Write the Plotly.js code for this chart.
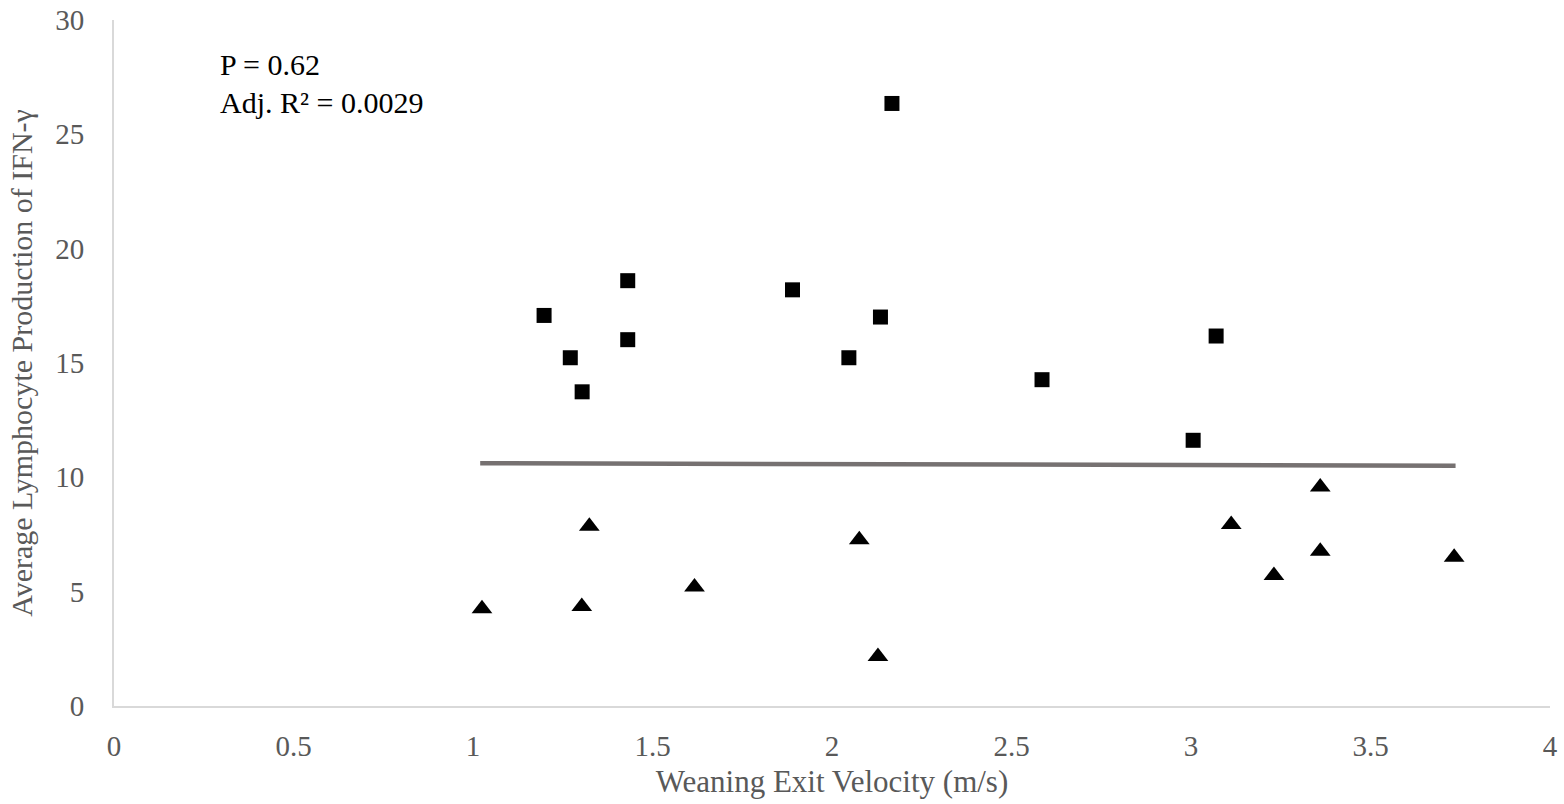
<!DOCTYPE html>
<html>
<head>
<meta charset="utf-8">
<script src="https://cdn.plot.ly/plotly-3.0.1.min.js"></script>
<style>html,body{margin:0;padding:0;background:#fff;}#chart{width:1564px;height:804px;}</style>
</head>
<body>
<div id="chart"></div>
<script>
// Squares series
const squareX = [1.198, 1.271, 1.304, 1.431, 1.431, 1.890, 2.047, 2.135, 2.167, 2.585, 3.006, 3.070];
const squareY = [17.08, 15.23, 13.74, 18.60, 16.02, 18.20, 15.23, 17.01, 26.35, 14.27, 11.62, 16.18];
// Triangles series
const triX = [1.025, 1.303, 1.324, 1.617, 2.076, 2.128, 3.112, 3.231, 3.360, 3.360, 3.733];
const triY = [4.25, 4.35, 7.86, 5.20, 7.27, 2.17, 7.94, 5.71, 9.58, 6.77, 6.51];
// Trend line endpoints
const trendX = [1.02, 3.737];
const trendY = [10.62, 10.51];
const xTicks = [0, 0.5, 1, 1.5, 2, 2.5, 3, 3.5, 4];
const xTickText = ['0', '0.5', '1', '1.5', '2', '2.5', '3', '3.5', '4'];
const yTicks = [0, 5, 10, 15, 20, 25, 30];
const yTickText = ['0', '5', '10', '15', '20', '25', '30'];

const FONT = '"Liberation Serif", "Times New Roman", serif';

const traces = [
  {x: trendX, y: trendY, mode: 'lines', type: 'scatter',
   line: {color: '#767171', width: 4.5}, hoverinfo: 'skip', showlegend: false},
  {x: squareX, y: squareY, mode: 'markers', type: 'scatter',
   marker: {symbol: 'square', size: 15, color: '#000000'}, showlegend: false},
  {x: triX, y: triY, mode: 'markers', type: 'scatter',
   marker: {symbol: 'triangle-up', size: 18, color: '#000000'}, showlegend: false}
];

const layout = {
  width: 1564, height: 804,
  margin: {l: 114, r: 14, t: 20, b: 98},
  paper_bgcolor: '#ffffff', plot_bgcolor: '#ffffff',
  font: {family: FONT, color: '#595959', size: 29},
  xaxis: {
    range: [0, 4], tickvals: xTicks, ticktext: xTickText,
    showgrid: false, zeroline: false,
    showline: true, linecolor: '#d9d9d9', linewidth: 2,
    ticks: 'outside', ticklen: 13, tickcolor: 'rgba(0,0,0,0)',
    tickfont: {family: FONT, size: 29, color: '#595959'},
    title: {text: 'Weaning Exit Velocity (m/s)', font: {family: FONT, size: 31, color: '#595959'}, standoff: 10},
    automargin: false, fixedrange: true
  },
  yaxis: {
    range: [0, 30], tickvals: yTicks, ticktext: yTickText,
    showgrid: false, zeroline: false,
    showline: true, linecolor: '#d9d9d9', linewidth: 2,
    ticks: 'outside', ticklen: 22, tickcolor: 'rgba(0,0,0,0)',
    tickfont: {family: FONT, size: 29, color: '#595959'},
    title: {text: 'Average Lymphocyte Production of IFN-γ', font: {family: FONT, size: 30, color: '#595959'}, standoff: 14},
    automargin: false, fixedrange: true
  },
  annotations: [
    {xref: 'paper', yref: 'paper', x: 0.0725, y: 0.935, xanchor: 'left', yanchor: 'middle',
     text: 'P = 0.62', showarrow: false, align: 'left',
     font: {family: FONT, size: 30, color: '#000000'}},
    {xref: 'paper', yref: 'paper', x: 0.0725, y: 0.88, xanchor: 'left', yanchor: 'middle',
     text: 'Adj. R² = 0.0029', showarrow: false, align: 'left',
     font: {family: FONT, size: 30, color: '#000000'}}
  ],
  showlegend: false
};

Plotly.newPlot('chart', traces, layout, {displayModeBar: false, staticPlot: true});
</script>
</body>
</html>
